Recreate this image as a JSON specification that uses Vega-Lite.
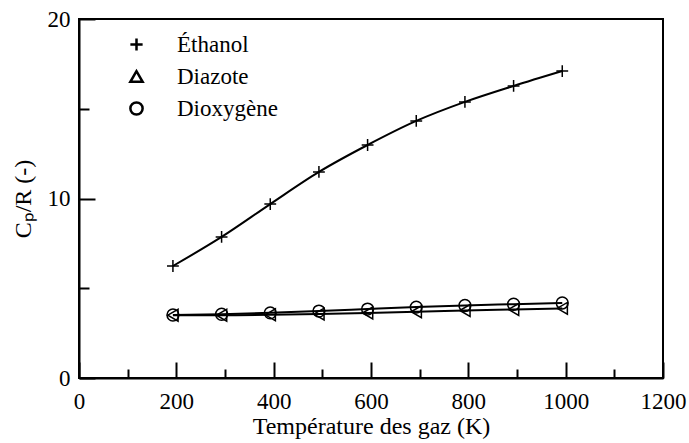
{
  "$schema": "https://vega.github.io/schema/vega-lite/v6.json",
  "autosize": "none",
  "width": 584,
  "height": 359,
  "padding": {"left": 79, "top": 19, "right": 26, "bottom": 65},
  "background": "white",
  "config": {
    "view": {"stroke": "black", "strokeWidth": 2},
    "font": "Liberation Serif",
    "axis": {
      "grid": false,
      "domainColor": "black",
      "domainWidth": 2,
      "tickColor": "black",
      "tickWidth": 2,
      "labelColor": "black",
      "titleColor": "black",
      "labelFont": "Liberation Serif",
      "titleFont": "Liberation Serif",
      "labelFontSize": 23,
      "titleFontSize": 24,
      "titleFontWeight": "normal"
    },
    "legend": {"labelFont": "Liberation Serif", "labelColor": "black"}
  },
  "data": {
    "values": [
      {"series": "Éthanol", "T": 193, "cp": 6.24},
      {"series": "Éthanol", "T": 293, "cp": 7.86},
      {"series": "Éthanol", "T": 393, "cp": 9.69},
      {"series": "Éthanol", "T": 493, "cp": 11.48},
      {"series": "Éthanol", "T": 593, "cp": 12.98},
      {"series": "Éthanol", "T": 693, "cp": 14.32},
      {"series": "Éthanol", "T": 793, "cp": 15.38},
      {"series": "Éthanol", "T": 893, "cp": 16.27},
      {"series": "Éthanol", "T": 993, "cp": 17.1},
      {"series": "Diazote", "T": 193, "cp": 3.5},
      {"series": "Diazote", "T": 293, "cp": 3.5},
      {"series": "Diazote", "T": 393, "cp": 3.52},
      {"series": "Diazote", "T": 493, "cp": 3.56},
      {"series": "Diazote", "T": 593, "cp": 3.62},
      {"series": "Diazote", "T": 693, "cp": 3.69},
      {"series": "Diazote", "T": 793, "cp": 3.76},
      {"series": "Diazote", "T": 893, "cp": 3.82},
      {"series": "Diazote", "T": 993, "cp": 3.88},
      {"series": "Dioxygène", "T": 193, "cp": 3.51},
      {"series": "Dioxygène", "T": 293, "cp": 3.55},
      {"series": "Dioxygène", "T": 393, "cp": 3.63},
      {"series": "Dioxygène", "T": 493, "cp": 3.73},
      {"series": "Dioxygène", "T": 593, "cp": 3.84},
      {"series": "Dioxygène", "T": 693, "cp": 3.95},
      {"series": "Dioxygène", "T": 793, "cp": 4.04},
      {"series": "Dioxygène", "T": 893, "cp": 4.11},
      {"series": "Dioxygène", "T": 993, "cp": 4.18}
    ]
  },
  "encoding": {
    "x": {
      "field": "T", "type": "quantitative",
      "scale": {"domain": [0, 1200], "nice": false, "zero": false},
      "axis": {
        "title": "Température des gaz (K)",
        "values": [0, 100, 200, 300, 400, 500, 600, 700, 800, 900, 1000, 1100, 1200],
        "labelExpr": "datum.value % 200 === 0 ? datum.label : ''",
        "format": "d",
        "tickSize": {"condition": {"test": "datum.value % 200 === 0", "value": -16}, "value": -9},
        "labelPadding": 28,
        "labelFlush": false,
        "labelOverlap": false,
        "titlePadding": -6
      }
    },
    "y": {
      "field": "cp", "type": "quantitative",
      "scale": {"domain": [0, 20], "nice": false},
      "axis": {
        "title": "Cₚ/R (-)",
        "values": [0, 5, 10, 15, 20],
        "labelExpr": "datum.value % 10 === 0 ? datum.label : ''",
        "tickSize": {"condition": {"test": "datum.value % 10 === 0", "value": -16}, "value": -10},
        "labelPadding": 25,
        "labelFlush": false,
        "labelOverlap": false,
        "titlePadding": 12
      }
    }
  },
  "resolve": {"scale": {"shape": "independent"}, "legend": {"shape": "independent"}},
  "layer": [
    {
      "mark": {"type": "line", "color": "black", "strokeWidth": 2, "interpolate": "monotone"},
      "encoding": {"detail": {"field": "series"}}
    },
    {
      "mark": {"type": "point", "filled": false, "stroke": "black", "strokeWidth": 1.5, "opacity": 1},
      "encoding": {
        "shape": {
          "field": "series", "type": "nominal",
          "scale": {
            "domain": ["Éthanol", "Diazote", "Dioxygène"],
            "range": ["M-1,0H1M0,-1V1", "triangle-left", "circle"]
          },
          "legend": null
        },
        "size": {"value": 140}
      }
    },
    {
      "transform": [{"filter": "false"}],
      "mark": {"type": "point", "filled": false, "stroke": "black", "strokeWidth": 2.5, "opacity": 1},
      "encoding": {
        "shape": {
          "field": "series", "type": "nominal",
          "scale": {
            "domain": ["Éthanol", "Diazote", "Dioxygène"],
            "range": ["M-1,0H1M0,-1V1", "triangle-up", "circle"]
          },
          "legend": {
            "title": null,
            "orient": "none",
            "legendX": 46,
            "legendY": 14,
            "padding": 0,
            "labelFont": "Liberation Serif",
            "labelFontSize": 23,
            "labelColor": "black",
            "labelOffset": 29,
            "rowPadding": 8,
            "symbolSize": 150,
            "symbolStrokeColor": "black",
            "symbolFillColor": "transparent",
            "symbolStrokeWidth": 2.5,
            "symbolOpacity": 1
          }
        },
        "size": {"value": 150}
      }
    }
  ]
}
